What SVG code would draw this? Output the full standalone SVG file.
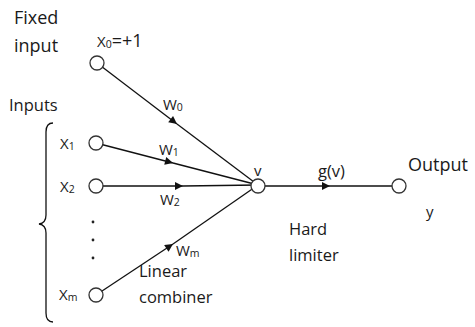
<svg xmlns="http://www.w3.org/2000/svg" width="475" height="327" viewBox="0 0 475 327">
  <style>
    .lbl { font-family: "Open Sans", "Noto Sans", sans-serif; font-size: 16.5px; fill: #1a1a1a; }
    .big { font-size: 18px; }
    .sym { font-family: "Open Sans", "Noto Sans", sans-serif; font-size: 15px; fill: #1a1a1a; }
    .sub { font-size: 10.5px; }
    .node { fill: #fff; stroke: #333; stroke-width: 1.3; }
    .edge { stroke: #111; stroke-width: 1.3; fill: none; }
  </style>
  <defs>
    <marker id="tri" viewBox="0 0 10 10" refX="10" refY="5" markerWidth="11" markerHeight="8" markerUnits="userSpaceOnUse" orient="auto">
      <path d="M0,0 L10,5 L0,10 z" fill="#111"/>
    </marker>
  </defs>

  <!-- side captions -->
  <text class="lbl big" x="14" y="24">Fixed</text>
  <text class="lbl big" x="14" y="52">input</text>
  <text class="lbl" x="9" y="111">Inputs</text>
  <path class="edge" d="M53,123 Q46,123 46,132 L46,215 Q46,223 39,224 Q46,225 46,233 L46,313 Q46,322 53,322" stroke-width="1.2"/>

  <!-- connectors -->
  <g id="connectors">
    <path class="edge" d="M97,63 L177,124" marker-end="url(#tri)"/>
    <path class="edge" d="M177,124 L258,185"/>
    <path class="edge" d="M96,143 L173,163" marker-end="url(#tri)"/>
    <path class="edge" d="M173,163 L258,185"/>
    <path class="edge" d="M96,186 L183,186" marker-end="url(#tri)"/>
    <path class="edge" d="M183,186 L258,185"/>
    <path class="edge" d="M96,295 L173,244" marker-end="url(#tri)"/>
    <path class="edge" d="M173,244 L258,185"/>
    <path class="edge" d="M258,186 L330,186" marker-end="url(#tri)"/>
    <path class="edge" d="M330,186 L399,186"/>
  </g>

  <!-- input nodes -->
  <g id="x0">
    <circle class="node" cx="97" cy="63" r="7"/>
    <text class="sym" x="97" y="47">X<tspan class="sub" dy="1">0</tspan><tspan dy="-1" font-size="18">=+1</tspan></text>
  </g>
  <g id="x1">
    <circle class="node" cx="96" cy="143" r="7"/>
    <text class="sym" x="60" y="149">X<tspan class="sub" dy="1">1</tspan></text>
  </g>
  <g id="x2">
    <circle class="node" cx="96" cy="186" r="7"/>
    <text class="sym" x="60" y="192">X<tspan class="sub" dy="1">2</tspan></text>
  </g>
  <g id="dots" fill="#222">
    <circle cx="93" cy="222" r="1.4"/>
    <circle cx="93" cy="240" r="1.4"/>
    <circle cx="93" cy="258" r="1.4"/>
  </g>
  <g id="xm">
    <circle class="node" cx="96" cy="295" r="7"/>
    <text class="sym" x="59" y="300">X<tspan class="sub" dy="1">m</tspan></text>
  </g>

  <!-- weights -->
  <g id="weights">
    <text class="sym" x="163" y="110">W<tspan class="sub" dy="1">0</tspan></text>
    <text class="sym" x="159" y="155">W<tspan class="sub" dy="1">1</tspan></text>
    <text class="sym" x="160" y="205">W<tspan class="sub" dy="1">2</tspan></text>
    <text class="sym" x="176" y="256">W<tspan class="sub" dy="1">m</tspan></text>
  </g>

  <!-- summing node -->
  <g id="v">
    <circle class="node" cx="258" cy="186" r="7"/>
    <text class="sym" x="254" y="176">v</text>
  </g>
  <text class="lbl" x="139" y="277">Linear</text>
  <text class="lbl" x="139" y="303">combiner</text>

  <!-- activation -->
  <text class="lbl" x="318" y="177">g(v)</text>
  <text class="lbl" x="289" y="235">Hard</text>
  <text class="lbl" x="289" y="261">limiter</text>

  <!-- output node -->
  <g id="output">
    <circle class="node" cx="399" cy="186" r="7"/>
    <text class="lbl big" x="408" y="171">Output</text>
    <text class="sym" x="426" y="217">y</text>
  </g>
</svg>
